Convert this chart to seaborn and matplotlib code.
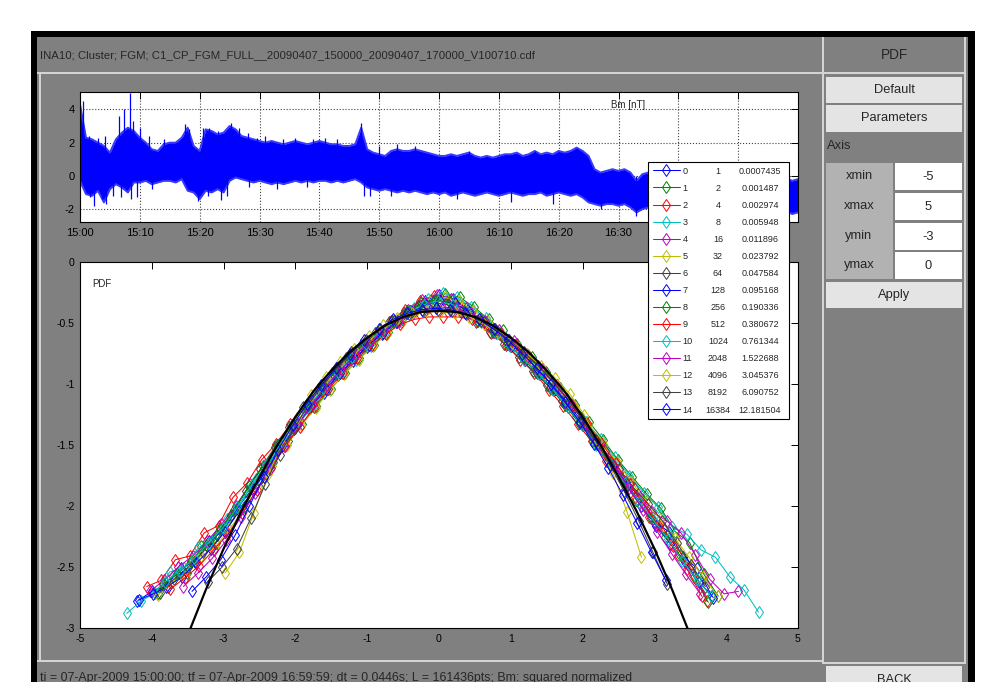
import matplotlib
matplotlib.use("Agg")
import matplotlib.pyplot as plt
import numpy as np
import seaborn as sns
from matplotlib import font_manager
from matplotlib.patches import Rectangle

W, H = 993, 682
nan = np.nan

window_title = "INA10; Cluster; FGM; C1_CP_FGM_FULL__20090407_150000_20090407_170000_V100710.cdf"
status_line = ("ti = 07-Apr-2009 15:00:00; tf = 07-Apr-2009 16:59:59; dt = 0.0446s; "
               "L = 161436pts; Bm: squared normalized")

# Bm [nT]: upper / lower edge of the signal, read once per minute after 15:00
bm_min = np.arange(121)
bm_hi = [4.3, 2.3, 2.2, 2.0, 1.8, 1.4, 2.2, 2.6, 2.9, 2.7,
         2.3, 2.0, 1.6, 1.5, 1.9, 2.0, 2.0, 2.3, 2.9, 1.8,
         1.5, 2.8, 2.7, 2.5, 2.6, 3.0, 2.8, 2.4, 2.3, 2.2,
         2.1, 2.0, 2.1, 2.0, 1.9, 2.0, 2.1, 2.0, 1.9, 2.0,
         2.1, 2.0, 1.9, 1.9, 1.8, 1.8, 1.9, 2.9, 1.6, 1.4,
         1.3, 1.2, 1.5, 1.6, 1.5, 1.5, 1.6, 1.5, 1.4, 1.3,
         1.2, 1.2, 1.3, 1.2, 1.3, 1.4, 1.2, 1.1, 1.2, 1.1,
         1.2, 1.3, 1.3, 1.4, 1.2, 1.3, 1.5, 1.3, 1.4, 1.3,
         1.5, 1.4, 1.5, 1.7, 1.5, 1.2, 0.4, 0.2, 0.3, 0.4,
         0.3, 0.4, 0.2, -0.3, 0.1, 0.2, 0.3, 0.3, 0.2, 0.2,
         0.1, 0.2, 0.1, 0.0, 0.1, 0.0, -0.1, 0.0, -0.1, -0.2,
         -0.1, -0.2, -0.1, -0.2, -0.3, -0.2, -0.3, -0.2, -0.1, -0.3, -0.2]
bm_lo = [-0.3, -1.1, -1.2, -0.9, -1.6, -0.8, -0.5, -0.7, -1.0, -0.4,
         -0.4, -0.3, -0.5, -0.4, -0.3, -0.3, -0.4, -0.2, -0.9, -1.0,
         -1.4, -0.9, -1.0, -0.8, -1.0, -0.3, -0.1, -0.2, -0.3, -0.4,
         -0.3, -0.4, -0.5, -0.4, -0.5, -0.4, -0.3, -0.4, -0.3, -0.4,
         -0.3, -0.3, -0.4, -0.3, -0.4, -0.3, -0.2, -0.4, -0.7, -0.8,
         -0.9, -0.8, -0.9, -1.0, -0.9, -1.0, -0.9, -1.0, -1.1, -1.0,
         -1.1, -1.0, -1.2, -1.1, -1.0, -1.1, -1.2, -1.1, -1.0, -1.1,
         -1.2, -1.1, -1.0, -1.1, -1.2, -1.1, -1.1, -1.0, -1.2, -1.1,
         -1.0, -1.1, -1.2, -1.1, -1.3, -1.6, -1.7, -1.8, -1.7, -1.7,
         -1.8, -1.7, -1.9, -2.2, -2.0, -1.9, -1.8, -1.7, -1.8, -1.9,
         -1.9, -2.0, -1.9, -2.0, -2.1, -2.0, -2.1, -2.0, -2.1, -2.2,
         -2.1, -2.2, -2.1, -2.2, -2.3, -2.2, -2.3, -2.2, -2.1, -2.3, -2.2]
# isolated excursions beyond the band (minute, value)
spike_min = [0.5, 1.5, 3.0, 4.2, 6.5, 7.3, 8.3, 8.8, 10.0, 11.5, 14.0, 16.0, 17.5, 18.3,
             20.5, 21.5, 23.0, 25.3, 26.5, 28.0, 29.5, 31.0, 34.0, 36.0, 39.0, 41.0,
             43.0, 47.0, 50.0, 53.0, 56.0, 65.0, 76.0, 83.0,
             1.6, 2.3, 3.6, 4.4, 5.5, 6.9, 8.6, 9.5, 12.0, 19.8, 21.4, 23.5, 24.5,
             28.2, 33.0, 38.0, 47.5, 48.5, 52.0, 63.0, 72.0, 79.0, 87.0, 93.0]
spike_val = [4.5, 2.4, 2.3, 2.4, 3.6, 4.0, 5.0, 3.3, 2.9, 2.4, 2.2, 2.0, 3.1, 2.8,
             2.9, 2.9, 2.7, 3.2, 2.9, 2.6, 2.3, 2.4, 2.2, 2.3, 2.2, 2.3,
             2.2, 3.2, 1.8, 1.9, 1.8, 1.5, 1.5, 1.7,
             -1.3, -1.8, -1.4, -1.7, -1.2, -1.3, -1.4, -1.3, -0.8, -1.5, -1.2, -1.45, -1.2,
             -0.7, -0.8, -0.7, -1.2, -1.2, -1.2, -1.4, -1.6, -1.7, -2.0, -2.4]
time_ticks = [0, 10, 20, 30, 40, 50, 60, 70, 80, 90, 100, 110]
time_labels = ["15:00", "15:10", "15:20", "15:30", "15:40", "15:50",
               "16:00", "16:10", "16:20", "16:30", "16:40", "16:50"]
bm_yticks = [-2, 0, 2, 4]

# log10 PDF of the normalised increments, one list per scale on bins pdf_x (+ bin_shift)
pdf_x = np.linspace(-4.4, 4.4, 45)
bin_shift = [0.00, 0.09, -0.07, 0.05, -0.03, 0.08, -0.09, 0.02,
             -0.05, 0.06, -0.01, 0.04, 0.02, -0.02, -0.04]
pdf_0 = [nan, -2.78, -2.70, -2.66, -2.51, -2.46, -2.29, -2.20, -2.01, -1.86, -1.68, -1.50,
         -1.36, -1.20, -1.07, -0.93, -0.81, -0.70, -0.59, -0.49, -0.40, -0.32, -0.27,
         -0.30, -0.39, -0.48, -0.58, -0.69, -0.80, -0.92, -1.05, -1.19, -1.34, -1.49,
         -1.64, -1.80, -1.93, -2.13, -2.21, -2.42, -2.51, -2.74, nan, nan, nan]
pdf_1 = [nan, nan, -2.71, -2.57, -2.55, -2.33, -2.30, -2.09, -2.01, -1.79, -1.64, -1.47,
         -1.33, -1.18, -1.04, -0.91, -0.79, -0.68, -0.57, -0.47, -0.38, -0.31, -0.26,
         -0.29, -0.37, -0.47, -0.56, -0.67, -0.78, -0.90, -1.03, -1.17, -1.31, -1.46,
         -1.62, -1.76, -1.90, -2.02, -2.21, -2.30, -2.56, -2.74, nan, nan, nan]
pdf_2 = [nan, nan, -2.66, -2.61, -2.44, -2.41, -2.22, -2.16, -1.93, -1.81, -1.62, -1.49,
         -1.33, -1.19, -1.05, -0.92, -0.80, -0.69, -0.58, -0.48, -0.39, -0.32, -0.28,
         -0.31, -0.38, -0.48, -0.58, -0.68, -0.80, -0.91, -1.05, -1.18, -1.33, -1.47,
         -1.63, -1.77, -1.93, -2.09, -2.19, -2.40, -2.50, -2.78, nan, nan, nan]
pdf_3 = [-2.88, -2.78, -2.71, -2.54, -2.51, -2.34, -2.28, -2.11, -1.97, -1.78, -1.63, -1.46,
         -1.32, -1.18, -1.04, -0.91, -0.80, -0.69, -0.58, -0.48, -0.38, -0.30, -0.25,
         -0.29, -0.37, -0.46, -0.57, -0.68, -0.79, -0.90, -1.03, -1.16, -1.31, -1.45,
         -1.60, -1.75, -1.89, -2.01, -2.17, -2.23, -2.36, -2.42, -2.58, -2.69, -2.87]
pdf_4 = [nan, nan, -2.70, -2.61, -2.50, -2.41, -2.29, -2.15, -2.00, -1.82, -1.66, -1.49,
         -1.35, -1.20, -1.06, -0.92, -0.80, -0.69, -0.58, -0.48, -0.39, -0.31, -0.27,
         -0.30, -0.38, -0.47, -0.57, -0.68, -0.79, -0.91, -1.04, -1.17, -1.32, -1.47,
         -1.61, -1.76, -1.90, -2.05, -2.12, -2.22, -2.40, -2.60, -2.72, -2.70, nan]
pdf_5 = [nan, nan, -2.73, -2.62, -2.58, -2.41, -2.34, -2.19, -2.03, -1.85, -1.67, -1.50,
         -1.34, -1.20, -1.05, -0.92, -0.80, -0.69, -0.59, -0.49, -0.40, -0.33, -0.29,
         -0.32, -0.40, -0.49, -0.59, -0.69, -0.80, -0.92, -1.05, -1.19, -1.34, -1.49,
         -1.64, -1.80, -1.96, -2.11, -2.26, -2.42, -2.58, -2.74, nan, nan, nan]
pdf_6 = [nan, nan, nan, -2.71, -2.60, -2.50, -2.38, -2.24, -2.07, -1.88, -1.70, -1.52,
         -1.35, -1.19, -1.04, -0.91, -0.79, -0.68, -0.58, -0.49, -0.42, -0.36, -0.33,
         -0.35, -0.41, -0.49, -0.57, -0.67, -0.78, -0.89, -1.01, -1.14, -1.27, -1.41,
         -1.55, -1.70, -1.85, -1.98, -2.12, -2.30, -2.48, -2.66, nan, nan, nan]
pdf_7 = [nan, -2.77, -2.72, -2.66, -2.58, -2.47, -2.35, -2.21, -2.04, -1.86, -1.69, -1.51,
         -1.34, -1.18, -1.04, -0.91, -0.79, -0.68, -0.58, -0.49, -0.41, -0.35, -0.32,
         -0.34, -0.41, -0.49, -0.58, -0.68, -0.79, -0.91, -1.04, -1.18, -1.33, -1.49,
         -1.66, -1.83, -2.00, -2.16, -2.31, -2.46, -2.62, -2.75, nan, nan, nan]
pdf_8 = [nan, nan, nan, -2.64, -2.56, -2.45, -2.32, -2.19, -2.03, -1.84, -1.67, -1.50,
         -1.34, -1.18, -1.04, -0.90, -0.78, -0.67, -0.57, -0.48, -0.40, -0.34, -0.31,
         -0.33, -0.40, -0.48, -0.57, -0.67, -0.78, -0.90, -1.03, -1.17, -1.32, -1.47,
         -1.63, -1.79, -1.95, -2.10, -2.25, -2.40, -2.58, -2.79, nan, nan, nan]
pdf_9 = [nan, nan, nan, -2.68, -2.59, -2.49, -2.36, -2.23, -2.06, -1.87, -1.69, -1.51,
         -1.35, -1.19, -1.04, -0.91, -0.79, -0.68, -0.59, -0.51, -0.47, -0.45, -0.45,
         -0.45, -0.47, -0.52, -0.59, -0.68, -0.79, -0.90, -1.03, -1.17, -1.32, -1.48,
         -1.65, -1.82, -1.99, -2.16, -2.33, -2.52, -2.74, nan, nan, nan, nan]
pdf_10 = [nan, nan, nan, -2.62, -2.53, -2.43, -2.30, -2.18, -2.01, -1.83, -1.66, -1.49,
          -1.33, -1.18, -1.03, -0.90, -0.78, -0.67, -0.57, -0.48, -0.41, -0.35, -0.32,
          -0.35, -0.41, -0.49, -0.58, -0.69, -0.80, -0.92, -1.05, -1.19, -1.34, -1.50,
          -1.66, -1.81, -1.97, -2.12, -2.27, -2.45, -2.60, -2.74, nan, nan, nan]
pdf_11 = [nan, nan, nan, nan, -2.66, -2.55, -2.43, -2.28, -2.09, -1.89, -1.70, -1.51,
          -1.33, -1.16, -1.01, -0.88, -0.76, -0.65, -0.56, -0.48, -0.42, -0.38, -0.37,
          -0.38, -0.42, -0.48, -0.56, -0.65, -0.76, -0.88, -1.01, -1.16, -1.32, -1.49,
          -1.67, -1.85, -2.03, -2.21, -2.39, -2.56, -2.72, nan, nan, nan, nan]
pdf_12 = [nan, nan, nan, nan, nan, nan, nan, -2.55, -2.38, -2.06, -1.74, -1.49,
          -1.28, -1.09, -0.94, -0.82, -0.71, -0.61, -0.52, -0.46, -0.42, -0.40, -0.41,
          -0.42, -0.45, -0.51, -0.58, -0.66, -0.75, -0.85, -0.95, -1.08, -1.25, -1.47,
          -1.73, -2.05, -2.42, nan, nan, nan, nan, nan, nan, nan, nan]
pdf_13 = [nan, nan, nan, nan, nan, nan, -2.62, -2.50, -2.35, -2.10, -1.82, -1.58,
          -1.37, -1.17, -1.01, -0.87, -0.74, -0.64, -0.55, -0.48, -0.43, -0.40, -0.39,
          -0.40, -0.43, -0.48, -0.55, -0.64, -0.74, -0.85, -0.98, -1.12, -1.28, -1.46,
          -1.66, -1.88, -2.12, -2.38, -2.64, nan, nan, nan, nan, nan, nan]
pdf_14 = [nan, nan, nan, nan, nan, -2.70, -2.58, -2.44, -2.24, -2.00, -1.76, -1.54,
          -1.34, -1.16, -1.01, -0.87, -0.75, -0.64, -0.55, -0.47, -0.42, -0.39, -0.38,
          -0.39, -0.42, -0.47, -0.55, -0.64, -0.75, -0.87, -1.00, -1.15, -1.31, -1.49,
          -1.69, -1.91, -2.14, -2.38, -2.61, nan, nan, nan, nan, nan, nan]
pdf_series = [pdf_0, pdf_1, pdf_2, pdf_3, pdf_4, pdf_5, pdf_6, pdf_7,
              pdf_8, pdf_9, pdf_10, pdf_11, pdf_12, pdf_13, pdf_14]

# black reference curve (Gaussian)
gauss_x = [-3.5, -3.25, -3.0, -2.75, -2.5, -2.25, -2.0, -1.75, -1.5, -1.25, -1.0, -0.75,
           -0.5, -0.25, 0.0, 0.25, 0.5, 0.75, 1.0, 1.25, 1.5, 1.75, 2.0, 2.25, 2.5,
           2.75, 3.0, 3.25, 3.5]
gauss_y = [-3.06, -2.69, -2.35, -2.04, -1.76, -1.50, -1.27, -1.06, -0.89, -0.74, -0.62,
           -0.52, -0.45, -0.41, -0.40, -0.41, -0.45, -0.52, -0.62, -0.74, -0.89, -1.06,
           -1.27, -1.50, -1.76, -2.04, -2.35, -2.69, -3.06]
pdf_xticks = [-5, -4, -3, -2, -1, 0, 1, 2, 3, 4, 5]
pdf_yticks = [0, -0.5, -1, -1.5, -2, -2.5, -3]
pdf_ylabels = ["0", "-0.5", "-1", "-1.5", "-2", "-2.5", "-3"]

# legend columns
scale_idx = ["0", "1", "2", "3", "4", "5", "6", "7", "8", "9", "10", "11", "12", "13", "14"]
scale_n = ["1", "2", "4", "8", "16", "32", "64", "128", "256", "512", "1024",
           "2048", "4096", "8192", "16384"]
scale_dt = ["0.0007435", "0.001487", "0.002974", "0.005948", "0.011896", "0.023792",
            "0.047584", "0.095168", "0.190336", "0.380672", "0.761344", "1.522688",
            "3.045376", "6.090752", "12.181504"]

axis_names = ["xmin", "xmax", "ymin", "ymax"]
axis_values = ["-5", "5", "-3", "0"]

matlab_colors = ["#0000ff", "#008000", "#ff0000", "#00bfbf", "#bf00bf", "#bfbf00", "#404040"]

GRAY = "#808080"
LIGHT = "#d4d4d4"
BUTTON = "#e4e4e4"
LABEL_BG = "#b2b2b2"

sns.set_style("white")
available = {f.name for f in font_manager.fontManager.ttflist}
narrow = next((n for n in ["Liberation Sans Narrow", "DejaVu Sans Condensed", "Liberation Sans"]
               if n in available), "DejaVu Sans")
plt.rcParams["font.family"] = [narrow, "DejaVu Sans"]
plt.rcParams["axes.unicode_minus"] = False

fig = plt.figure(figsize=(W / 100, H / 100), dpi=100)
fig.patch.set_facecolor("white")


def px_rect(x0, y0, x1, y1, color, z=-5):
    fig.add_artist(Rectangle((x0 / W, 1 - y1 / H), (x1 - x0) / W, (y1 - y0) / H,
                             transform=fig.transFigure, facecolor=color,
                             edgecolor="none", zorder=z))


def px_text(x, y, s, size, ha="center", **kw):
    fig.text(x / W, 1 - y / H, s, ha=ha, va="center", fontsize=size, **kw)


# window chrome
px_rect(31, 31, 975, 700, "black", z=-10)
px_rect(37, 37, 968, 700, GRAY, z=-9)
px_rect(37, 72, 823, 74, LIGHT)
px_rect(39, 74, 41, 661, LIGHT)
px_rect(37, 660, 823, 662, LIGHT)
px_rect(822, 37, 824, 664, LIGHT)
px_text(40, 55, window_title, 8.2, ha="left")
px_text(40, 678, status_line, 8.9, ha="left")

# right control panel
px_rect(824, 72, 966, 74, LIGHT)
px_rect(964, 37, 966, 664, LIGHT)
px_text(895, 55, "PDF", 9.8)
px_rect(826, 77, 962, 103, BUTTON)
px_text(894, 90, "Default", 9.3)
px_rect(826, 105, 962, 132, BUTTON)
px_text(894, 118, "Parameters", 9.3)
px_text(827, 146, "Axis", 9.3, ha="left")
px_rect(826, 163, 893, 279, LABEL_BG)
row_tops = [163, 193, 223, 252]
for top, name, val in zip(row_tops, axis_names, axis_values):
    px_rect(895, top, 962, top + 27, "white")
    px_text(859, top + 13, name, 9.3)
    px_text(928, top + 14, val, 9.3)
px_rect(826, 282, 962, 308, BUTTON)
px_text(894, 295, "Apply", 9.3)
px_rect(824, 662, 966, 664, LIGHT)
px_rect(826, 666, 962, 700, BUTTON)
px_text(894, 680, "BACK", 9.3)

# top panel: Bm time series
ax1 = fig.add_axes([80 / W, 1 - 222 / H, 718 / W, 130 / H])
sns.lineplot(x=bm_min, y=bm_hi, ax=ax1, color="#3a3aff", lw=1.4, estimator=None, legend=False)
sns.lineplot(x=bm_min, y=bm_lo, ax=ax1, color="#3a3aff", lw=1.4, estimator=None, legend=False)
ax1.fill_between(bm_min, bm_lo, bm_hi, color="blue", lw=0)
ax1.vlines(spike_min, 0, spike_val, color="blue", lw=0.9)
ax1.set_xlim(0, 120)
ax1.set_ylim(-2.78, 5.05)
ax1.set_xticks(time_ticks, time_labels)
ax1.set_yticks(bm_yticks, [str(v) for v in bm_yticks])
ax1.set_xlabel("")
ax1.set_ylabel("")
ax1.grid(True, ls=":", color="0.25", lw=0.8)
ax1.text(0.763, 0.9, "Bm [nT]", transform=ax1.transAxes, ha="center", va="center", fontsize=7)

# bottom panel: PDFs per scale
ax2 = fig.add_axes([80 / W, 1 - 628 / H, 718 / W, 366 / H])
ax2.set_zorder(2)
handles = []
for i, ys in enumerate(pdf_series):
    c = matlab_colors[i % len(matlab_colors)]
    sns.lineplot(x=pdf_x + bin_shift[i], y=ys, ax=ax2, color=c, lw=0.75, estimator=None,
                 legend=False, marker="d", markersize=6, markerfacecolor="none",
                 markeredgecolor=c, markeredgewidth=0.7)
    handles.append(ax2.lines[-1])
sns.lineplot(x=gauss_x, y=gauss_y, ax=ax2, color="black", lw=1.6, estimator=None, legend=False)
ax2.set_xlim(-5, 5)
ax2.set_ylim(-3, 0)
ax2.set_xticks(pdf_xticks, [str(v) for v in pdf_xticks])
ax2.set_yticks(pdf_yticks, pdf_ylabels)
ax2.set_xlabel("")
ax2.set_ylabel("")
ax2.text(0.017, 0.94, "PDF", transform=ax2.transAxes, ha="left", va="center", fontsize=7)

for ax, size in [(ax1, 8.0), (ax2, 7.6)]:
    ax.set_facecolor("white")
    ax.tick_params(direction="in", length=5, width=0.7, top=True, right=True,
                   labelsize=size, pad=4, colors="black")
    for sp in ax.spines.values():
        sp.set_color("black")
        sp.set_linewidth(0.8)

leg = ax2.legend(handles, scale_idx, loc="upper left", mode="expand",
                 bbox_to_anchor=(648 / W, 1 - 421 / H, 141 / W, 259 / H),
                 bbox_transform=fig.transFigure, fontsize=6.6, frameon=True,
                 fancybox=False, edgecolor="black", framealpha=1, borderpad=0.5,
                 labelspacing=0.88, handlelength=3.0, handletextpad=0.3, borderaxespad=0)
leg.get_frame().set_linewidth(0.8)

fig.canvas.draw()
for t, n, dt in zip(leg.get_texts(), scale_n, scale_dt):
    bb = t.get_window_extent()
    yc = (bb.y0 + bb.y1) / 2 / fig.bbox.height
    fig.text(718 / W, yc, n, ha="center", va="center", fontsize=6.5, zorder=6)
    fig.text(760 / W, yc, dt, ha="center", va="center", fontsize=6.5, zorder=6)

fig.savefig("out.png", dpi=100)
